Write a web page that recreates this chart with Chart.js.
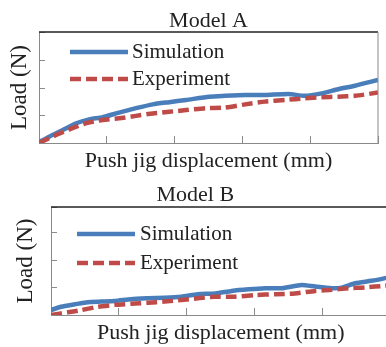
<!DOCTYPE html>
<html>
<head>
<meta charset="utf-8">
<script src="https://cdn.jsdelivr.net/npm/chart.js@4.4.0/dist/chart.umd.min.js"></script>
<style>
  html, body { margin: 0; padding: 0; background: #fff; width: 386px; height: 347px; overflow: hidden; }
  #boxA { position: absolute; left: 0; top: 0; width: 386px; height: 175px; }
  #boxB { position: absolute; left: 0; top: 175px; width: 386px; height: 172px; overflow: hidden; }
  canvas { display: block; }
</style>
</head>
<body>
<div id="boxA"><canvas id="chartA" width="386" height="175"></canvas></div>
<div id="boxB"><canvas id="chartB" width="407" height="172"></canvas></div>
<script>
// Model A (x: displacement in tick units, y: load in tick units)
const dispSimA = [0, 0.15, 0.35, 0.55, 0.74, 0.94, 1.18, 1.43, 1.68, 1.92, 2.17, 2.51, 2.74, 3.04, 3.33, 3.68, 3.92, 4.17, 4.41, 4.66, 5.0];
const loadSimA = [0.03, 0.23, 0.47, 0.72, 0.86, 0.94, 1.11, 1.27, 1.41, 1.49, 1.57, 1.69, 1.72, 1.75, 1.75, 1.79, 1.72, 1.81, 1.96, 2.09, 2.30];
const dispExpA = [0, 0.25, 0.45, 0.69, 0.94, 1.18, 1.43, 1.68, 1.92, 2.17, 2.46, 2.74, 3.04, 3.33, 3.63, 3.92, 4.17, 4.41, 4.66, 5.0];
const loadExpA = [0, 0.29, 0.50, 0.72, 0.84, 0.90, 0.99, 1.08, 1.14, 1.20, 1.27, 1.29, 1.41, 1.51, 1.57, 1.63, 1.67, 1.69, 1.72, 1.84];

// Model B
const dispSimB = [0, 0.15, 0.35, 0.54, 0.74, 0.94, 1.18, 1.43, 1.67, 1.92, 2.16, 2.42, 2.66, 2.91, 3.15, 3.40, 3.69, 3.89, 4.13, 4.28, 4.48, 4.72, 4.92, 5.0];
const loadSimB = [0.18, 0.30, 0.39, 0.47, 0.49, 0.51, 0.58, 0.61, 0.63, 0.67, 0.76, 0.79, 0.88, 0.94, 0.98, 0.98, 1.10, 1.04, 0.98, 1.00, 1.16, 1.25, 1.35, 1.40];
const dispExpB = [0, 0.25, 0.45, 0.69, 0.94, 1.18, 1.43, 1.67, 1.92, 2.16, 2.41, 2.71, 3.00, 3.30, 3.59, 3.89, 4.13, 4.38, 4.62, 4.92, 5.0];
const loadExpB = [0, 0.10, 0.18, 0.30, 0.37, 0.41, 0.45, 0.49, 0.55, 0.61, 0.67, 0.67, 0.73, 0.76, 0.79, 0.88, 0.92, 0.98, 1.01, 1.07, 1.09];

const seriesNames = ['Simulation', 'Experiment'];
const panelTitles = ['Model A', 'Model B'];
const xTitle = 'Push jig displacement (mm)';
const yTitle = 'Load (N)';

const FONT = "'Liberation Serif', 'DejaVu Serif', serif";
const TEXT = '#222';
const AXIS = '#8a8a8a';
const BLUE = '#4a7ebb';
const RED = '#be4b48';

Chart.defaults.font.family = FONT;

// Legend drawn inside the plot area (Chart.js legend can't sit there with these offsets)
const insideLegend = {
    id: 'insideLegend',
    afterDatasetsDraw(chart, args, opts) {
        const { ctx, chartArea } = chart;
        ctx.save();
        ctx.font = opts.fontSize + 'px ' + FONT;
        ctx.textBaseline = 'middle';
        ctx.fillStyle = TEXT;
        chart.data.datasets.forEach((ds, i) => {
            const x = chartArea.left + opts.x;
            const y = chartArea.top + opts.y + i * opts.spacing;
            ctx.strokeStyle = ds.borderColor;
            ctx.lineWidth = ds.borderWidth;
            ctx.setLineDash(ds.borderDash || []);
            ctx.beginPath();
            ctx.moveTo(x, y);
            ctx.lineTo(x + opts.lineLength, y);
            ctx.stroke();
            ctx.setLineDash([]);
            ctx.fillText(ds.label, x + opts.lineLength + opts.gap, y);
        });
        ctx.restore();
    }
};

// Top and right edges of the plot frame
const frameLines = {
    id: 'frameLines',
    afterDraw(chart) {
        const { ctx, chartArea: a } = chart;
        ctx.save();
        ctx.strokeStyle = '#222';
        ctx.lineWidth = 1.5;
        ctx.beginPath();
        ctx.moveTo(a.left, a.top);
        ctx.lineTo(a.right, a.top);
        ctx.stroke();
        ctx.strokeStyle = AXIS;
        ctx.lineWidth = 1;
        ctx.beginPath();
        ctx.moveTo(a.right, a.top);
        ctx.lineTo(a.right, a.bottom);
        ctx.stroke();
        ctx.restore();
    }
};

function toPoints(xs, ys) {
    return xs.map((x, i) => ({ x: x, y: ys[i] }));
}

function createPanel(canvasId, p) {
    const ctx = document.getElementById(canvasId).getContext('2d');
    return new Chart(ctx, {
        type: 'line',
        data: {
            datasets: [
                { label: seriesNames[0], data: toPoints(p.simX, p.simY), borderColor: BLUE, borderWidth: 4.5, pointRadius: 0, tension: 0.2, order: 1 },
                { label: seriesNames[1], data: toPoints(p.expX, p.expY), borderColor: RED, borderWidth: 4.5, borderDash: [11, 5], pointRadius: 0, tension: 0.2, order: 0 }
            ]
        },
        options: {
            responsive: false,
            animation: false,
            events: [],
            layout: { padding: p.padding },
            scales: {
                x: {
                    type: 'linear', min: 0, max: 5,
                    ticks: { display: false, stepSize: 1 },
                    grid: { drawOnChartArea: false, drawTicks: true, tickLength: -7, color: AXIS },
                    border: { color: AXIS },
                    title: { display: true, text: xTitle, color: TEXT, font: { size: 22 }, padding: { top: 12.3, bottom: 0.3 } }
                },
                y: {
                    min: 0, max: p.yMax,
                    ticks: { display: false, stepSize: 1 },
                    grid: { drawOnChartArea: false, drawTicks: true, tickLength: -6, color: AXIS },
                    border: { color: AXIS },
                    title: { display: true, text: yTitle, color: TEXT, font: { size: 23 }, padding: p.yTitlePadding }
                }
            },
            plugins: {
                legend: { display: false },
                tooltip: { enabled: false },
                title: { display: true, text: p.title, fullSize: p.titleFullSize, color: TEXT, font: { size: 22, weight: 'normal', lineHeight: 1 }, padding: p.titlePadding },
                insideLegend: p.legend
            }
        },
        plugins: [insideLegend, frameLines]
    });
}

createPanel('chartA', {
    title: panelTitles[0], titleFullSize: false,
    simX: dispSimA, simY: loadSimA, expX: dispExpA, expY: loadExpA,
    yMax: 4.05,
    padding: { left: 0, right: 8, top: 0, bottom: 0 },
    titlePadding: { top: 10, bottom: 0 },
    yTitlePadding: { top: 6.2, bottom: 11.2 },
    legend: { x: 31, y: 20, spacing: 27, lineLength: 58, gap: 4, fontSize: 21 }
});

createPanel('chartB', {
    title: panelTitles[1], titleFullSize: true,
    simX: dispSimB, simY: loadSimB, expX: dispExpB, expY: loadExpB,
    yMax: 3.95,
    padding: { left: 0, right: 16.5, top: 0, bottom: 0 },
    titlePadding: { top: 9.5, bottom: 0.5 },
    yTitlePadding: { top: 11.7, bottom: 17.7 },
    legend: { x: 26, y: 27, spacing: 29, lineLength: 58, gap: 5, fontSize: 21 }
});
</script>
</body>
</html>
